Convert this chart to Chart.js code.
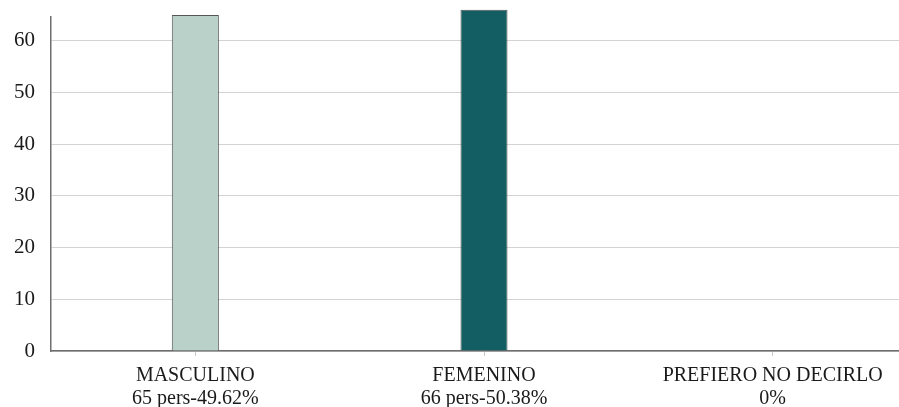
<!DOCTYPE html>
<html>
<head>
<meta charset="utf-8">
<script src="https://cdn.jsdelivr.net/npm/chart.js@4/dist/chart.umd.min.js"></script>
<style>
  html, body { margin: 0; padding: 0; background: #fff; overflow: hidden; }
  #holder { width: 899px; height: 407px; overflow: hidden; position: relative; }
  canvas { position: absolute; left: 0; top: 0; }
</style>
</head>
<body>
<div id="holder">
  <canvas id="genero" width="917" height="425"></canvas>
</div>
<script>
  var categorias = ['MASCULINO', 'FEMENINO', 'PREFIERO NO DECIRLO'];
  var detalle = ['65 pers-49.62%', '66 pers-50.38%', '0%'];
  var personas = [65, 66, 0];
  var colores = ['#b9d1c8', '#135e62', '#8fb3ad'];
  var yTicks = [0, 10, 20, 30, 40, 50, 60];

  var serif = '"Liberation Serif", "Times New Roman", serif';

  var context = document.getElementById('genero').getContext('2d');

  var chart = new Chart(context, {
    type: 'bar',
    data: {
      labels: categorias.map(function (c, i) { return [c, detalle[i]]; }),
      datasets: [{
        data: personas,
        backgroundColor: colores,
        borderColor: '#555',
        borderWidth: 1,
        borderSkipped: 'bottom',
        barPercentage: 0.163,
        categoryPercentage: 1,
        clip: false
      }]
    },
    options: {
      responsive: false,
      animation: false,
      layout: { padding: { top: 17, left: 0, right: 0, bottom: 0 } },
      plugins: {
        legend: { display: false },
        tooltip: { enabled: false }
      },
      scales: {
        x: {
          grid: { offset: false, drawOnChartArea: false, drawTicks: true, tickLength: 5, color: '#c8c8c8' },
          border: { color: '#6e6e6e', width: 1.5 },
          ticks: {
            color: '#1a1a1a',
            padding: 8,
            maxRotation: 0,
            font: { family: serif, size: 20, lineHeight: 1.15 }
          },
          afterFit: function (scale) { scale.height = 425 - 351; }
        },
        y: {
          min: 0,
          max: 64.6,
          afterBuildTicks: function (scale) {
            scale.ticks = yTicks.map(function (v) { return { value: v }; });
          },
          grid: { color: '#d3d3d3', drawTicks: false, lineWidth: 1 },
          border: { color: '#6e6e6e', width: 1.5 },
          ticks: {
            color: '#1a1a1a',
            padding: 16,
            font: { family: serif, size: 21 }
          },
          afterFit: function (scale) {
            scale.width = 51;
            scale.paddingTop = 0;
          }
        }
      }
    }
  });
</script>
</body>
</html>
